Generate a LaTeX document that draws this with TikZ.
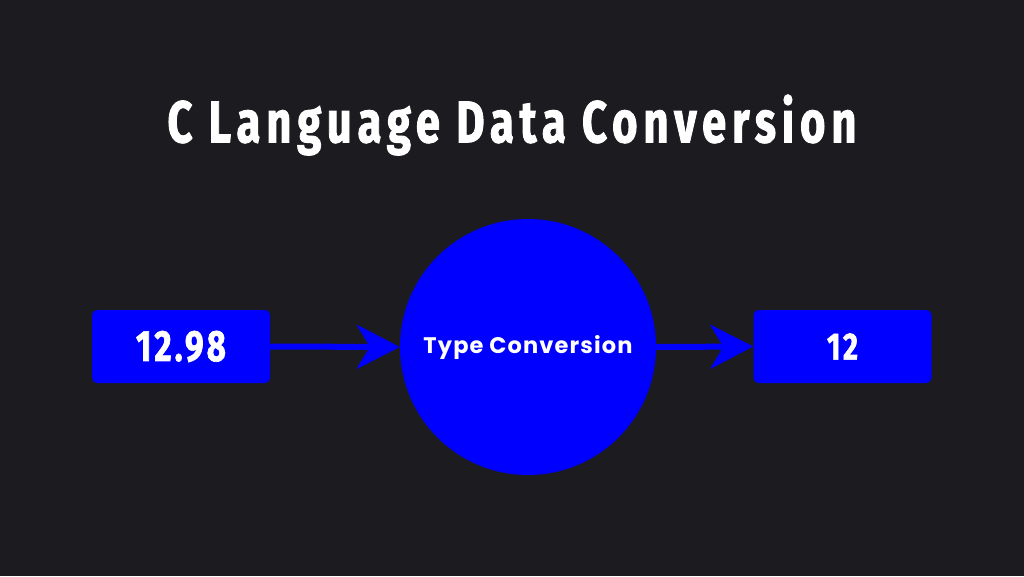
\documentclass[tikz,border=0pt]{standalone}
\usepackage{fontspec}
\usetikzlibrary{arrows.meta}
\newfontfamily\titlefont[FakeStretch=0.74,LetterSpace=10,FakeBold=1.5]{Fira Sans}
\newfontfamily\numfont[FakeStretch=0.76,LetterSpace=7,FakeBold=1.5]{Fira Sans}
\newfontfamily\popfont[LetterSpace=5]{Poppins}
\definecolor{bg}{HTML}{1C1B1F}
\definecolor{vblue}{HTML}{0000FF}
\tikzset{
  valbox/.style={fill=vblue, rounded corners=5pt, minimum width=178pt, minimum height=73pt, inner sep=0pt, text=white},
  procircle/.style={circle, fill=vblue, minimum size=256pt, inner sep=0pt, text=white},
  flow/.style={draw=vblue, line width=6pt, -{Stealth[length=43pt,width=44pt,inset=13pt]}}
}
\begin{document}
\begin{tikzpicture}[x=1pt,y=-1pt]
\fill[bg] (0,0) rectangle (1024,576);
\useasboundingbox (0,0) rectangle (1024,576);
\node[text=white, inner sep=0pt] (title) at (512,125) {\resizebox{689pt}{!}{\titlefont\bfseries C Language Data Conversion}};
\node[valbox] (in) at (181,346.5) {\resizebox{90pt}{!}{\numfont\bfseries 12.98}};
\node[procircle] (conv) at (528,347) {\resizebox{209pt}{!}{\popfont\bfseries Type Conversion}};
\node[valbox] (out) at (842.5,346.5) {\resizebox{31pt}{!}{\numfont\bfseries 12}};
\draw[flow] (in.east) -- (conv.west);
\draw[flow] (conv.east) -- (out.west);
\end{tikzpicture}
\end{document}
